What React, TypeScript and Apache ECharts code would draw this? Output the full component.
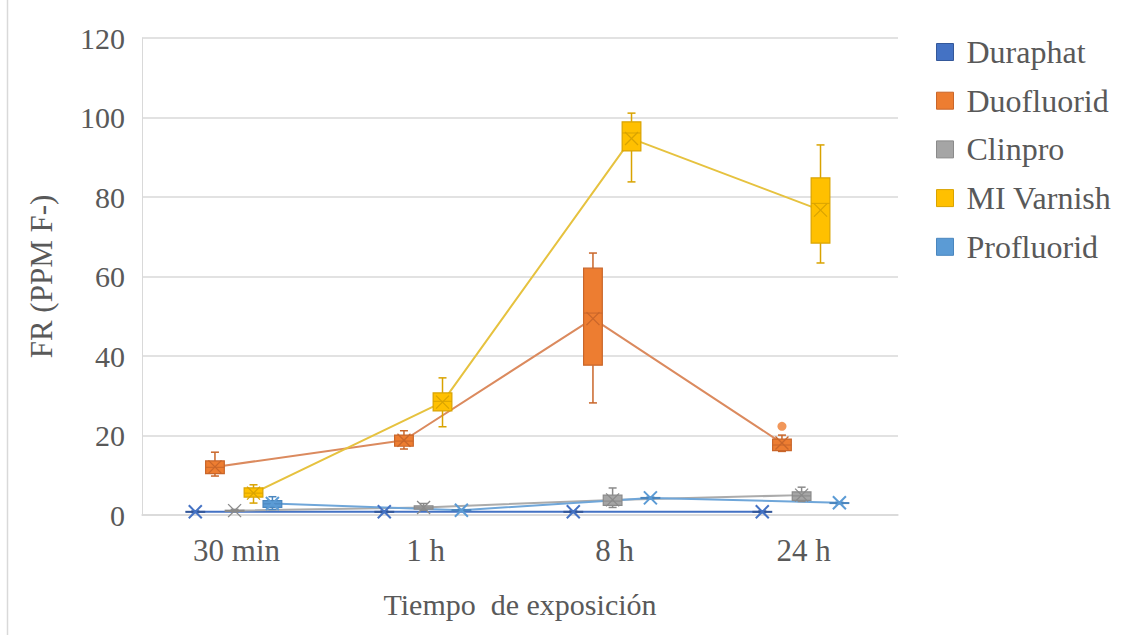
import React, { useEffect, useRef } from "react";
import * as echarts from "echarts";

const categories = ["30 min", "1 h", "8 h", "24 h"];
const seriesNames = ["Duraphat", "Duofluorid", "Clinpro", "MI Varnish", "Profluorid"];

// [low whisker, Q1, median, Q3, high whisker] per category
const duraphatBox = [
  [0.6, 0.7, 0.8, 0.9, 1.0],
  [0.6, 0.7, 0.8, 0.9, 1.0],
  [0.6, 0.7, 0.8, 0.9, 1.0],
  [0.6, 0.7, 0.8, 0.9, 1.0],
];
const duraphatMean = [0.8, 0.8, 0.8, 0.8];

const duofluoridBox = [
  [9.8, 10.4, 12, 13.6, 15.8],
  [16.6, 17.3, 18.6, 20.1, 21.2],
  [28.2, 37.7, 50.8, 62.1, 65.9],
  [16.0, 16.2, 17.6, 19.1, 20.1],
];
const duofluoridMean = [12.1, 18.8, 49.4, 18.1];
const duofluoridOutliers = [[3, 22.3]]; // [category index, value]

const clinproBox = [
  [0.8, 0.9, 1.0, 1.2, 1.4],
  [1.2, 1.5, 1.8, 2.3, 2.9],
  [1.9, 2.4, 3.5, 5.0, 6.8],
  [3.4, 3.7, 4.8, 5.8, 7.0],
];
const clinproMean = [1.1, 1.9, 3.8, 5.0];

const miVarnishBox = [
  [3.0, 4.5, 5.5, 6.8, 7.6],
  [22.2, 26.2, 28.6, 30.7, 34.5],
  [83.8, 91.6, 96.1, 98.9, 101.1],
  [63.4, 68.4, 78.4, 84.8, 93.1],
];
const miVarnishMean = [5.5, 28.4, 94.7, 76.7];

const profluoridBox = [
  [1.4, 1.9, 2.8, 3.6, 4.6],
  [1.0, 1.1, 1.2, 1.3, 1.4],
  [4.1, 4.2, 4.3, 4.4, 4.5],
  [2.8, 2.9, 3.0, 3.1, 3.2],
];
const profluoridMean = [2.9, 1.2, 4.3, 3.1];

const yTicks = { min: 0, max: 120, interval: 20 };

const FONT = "Liberation Serif";
const TEXT = "#595959";

const fills = ["#4472C4", "#ED7D31", "#A5A5A5", "#FFC000", "#5B9BD5"];
const borders = ["#34589A", "#C9662A", "#8A8A8A", "#D9A300", "#4A86BE"];
const lineColors = ["#4472C4", "#DB8A5E", "#ABABAB", "#E6C23F", "#6FA6D9"];
const groupOffsets = [-0.218, -0.114, -0.01, 0.09, 0.19];
const BOX_W = 0.099;

const boxes = [duraphatBox, duofluoridBox, clinproBox, miVarnishBox, profluoridBox];
const means = [duraphatMean, duofluoridMean, clinproMean, miVarnishMean, profluoridMean];

function makeRender(si: number) {
  return (params: any, api: any) => {
    const x = api.value(0);
    const low = api.coord([x, api.value(1)]);
    const q1 = api.coord([x, api.value(2)]);
    const med = api.coord([x, api.value(3)]);
    const q3 = api.coord([x, api.value(4)]);
    const high = api.coord([x, api.value(5)]);
    const mean = api.coord([x, api.value(6)]);
    const half = api.size([BOX_W, 0])[0] / 2;
    const cap = 4;
    const cx = q1[0];
    const stroke = borders[si];
    const lw = 1.2;
    const m = 6.5;
    const xlw = si === 0 || si === 4 ? 2 : 1.3;
    const xColor = si === 0 || si === 4 ? fills[si] : stroke;
    return {
      type: "group",
      children: [
        { type: "line", shape: { x1: cx, y1: q3[1], x2: cx, y2: high[1] }, style: { stroke, lineWidth: 1.5 } },
        { type: "line", shape: { x1: cx, y1: q1[1], x2: cx, y2: low[1] }, style: { stroke, lineWidth: 1.5 } },
        { type: "line", shape: { x1: cx - cap, y1: high[1], x2: cx + cap, y2: high[1] }, style: { stroke, lineWidth: 1.5 } },
        { type: "line", shape: { x1: cx - cap, y1: low[1], x2: cx + cap, y2: low[1] }, style: { stroke, lineWidth: 1.5 } },
        {
          type: "rect",
          shape: { x: cx - half, y: q3[1], width: half * 2, height: q1[1] - q3[1] },
          style: { fill: fills[si], stroke, lineWidth: lw },
        },
        { type: "line", shape: { x1: cx - half, y1: med[1], x2: cx + half, y2: med[1] }, style: { stroke, lineWidth: 1 } },
        { type: "line", shape: { x1: cx - m, y1: mean[1] - m, x2: cx + m, y2: mean[1] + m }, style: { stroke: xColor, lineWidth: xlw } },
        { type: "line", shape: { x1: cx - m, y1: mean[1] + m, x2: cx + m, y2: mean[1] - m }, style: { stroke: xColor, lineWidth: xlw } },
      ],
    };
  };
}

export default function App() {
  const ref = useRef<HTMLDivElement>(null);
  useEffect(() => {
    if (!ref.current) return;
    const chart = echarts.init(ref.current, undefined, { renderer: "svg" });

    const series: any[] = [];
    seriesNames.forEach((name, si) => {
      series.push({
        name: name + " media",
        type: "line",
        xAxisIndex: 1,
        data: means[si].map((v, ci) => [ci + groupOffsets[si], v]),
        symbol: "none",
        lineStyle: { color: lineColors[si], width: 2 },
        z: 2,
        silent: true,
      });
    });
    seriesNames.forEach((name, si) => {
      series.push({
        name,
        type: "custom",
        xAxisIndex: 1,
        itemStyle: { color: fills[si], borderColor: borders[si] },
        encode: { x: 0, y: [1, 2, 3, 4, 5, 6] },
        data: boxes[si].map((b, ci) => [ci + groupOffsets[si], ...b, means[si][ci]]),
        renderItem: makeRender(si),
        z: 3,
      });
    });
    series.push({
      name: "Duofluorid atípico",
      type: "scatter",
      xAxisIndex: 1,
      data: duofluoridOutliers.map(([ci, v]) => [ci + groupOffsets[1], v]),
      symbol: "circle",
      symbolSize: 9,
      itemStyle: { color: fills[1] },
      z: 4,
    });

    chart.setOption({
      animation: false,
      backgroundColor: "#ffffff",
      textStyle: { fontFamily: FONT },
      grid: { left: 142, right: 233, top: 38, bottom: 120 },
      legend: {
        orient: "vertical",
        left: 936,
        top: 36,
        padding: 0,
        itemWidth: 17,
        itemHeight: 17,
        itemGap: 16.7,
        icon: "rect",
        data: seriesNames.map((n, i) => ({
          name: n,
          itemStyle: { color: fills[i], borderColor: borders[i], borderWidth: 1 },
        })),
        textStyle: { fontFamily: FONT, fontSize: 32, color: TEXT, lineHeight: 30, padding: [0, 0, 0, 8] },
      },
      xAxis: [
        {
          type: "category",
          data: categories,
          boundaryGap: true,
          axisLine: { show: true, onZero: false, lineStyle: { color: "#D9D9D9", width: 1.5 } },
          axisTick: { show: false },
          axisLabel: { fontFamily: FONT, fontSize: 31, color: TEXT, margin: 20 },
          name: "Tiempo  de exposición",
          nameLocation: "middle",
          nameGap: 74,
          nameTextStyle: { fontFamily: FONT, fontSize: 30, color: TEXT },
        },
        { type: "value", min: -0.5, max: 3.5, show: false },
      ],
      yAxis: {
        type: "value",
        min: yTicks.min,
        max: yTicks.max,
        interval: yTicks.interval,
        axisLine: { show: true, onZero: false, lineStyle: { color: "#D9D9D9" } },
        axisTick: { show: false },
        splitLine: { lineStyle: { color: "#D9D9D9", width: 1.5 } },
        axisLabel: { fontFamily: FONT, fontSize: 30, color: TEXT, margin: 17 },
        name: "FR (PPM F-)",
        nameLocation: "middle",
        nameRotate: 90,
        nameGap: 85,
        nameTextStyle: { fontFamily: FONT, fontSize: 31, color: TEXT },
      },
      graphic: [
        { type: "line", shape: { x1: 7.5, y1: 0, x2: 7.5, y2: 635 }, style: { stroke: "#D9D9D9", lineWidth: 1.5 } },
      ],
      series,
    });
    return () => chart.dispose();
  }, []);
  return <div ref={ref} style={{ position: "fixed", left: 0, top: 0, width: 1131, height: 635 }} />;
}
